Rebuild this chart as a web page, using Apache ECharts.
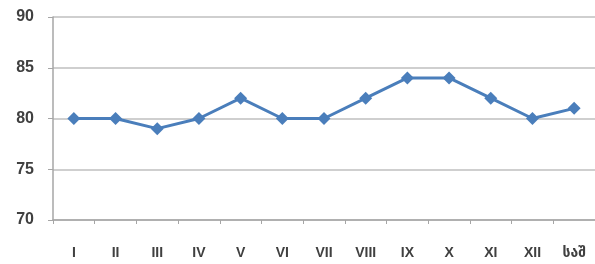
<!DOCTYPE html>
<html><head><meta charset="utf-8">
<script src="https://cdn.jsdelivr.net/npm/echarts@6/dist/echarts.min.js"></script>
<style>html,body{margin:0;padding:0;background:#fff}#c{width:595px;height:264px}</style>
</head><body><div id="c"></div>
<script>
const categories = ['I','II','III','IV','V','VI','VII','VIII','IX','X','XI','XII','საშ'];
const values = [80,80,79,80,82,80,80,82,84,84,82,80,81];
const yTicks = {min:70, max:90, interval:5};

const chart = echarts.init(document.getElementById('c'));
chart.setOption({
  animation:false,
  grid:{left:53, top:17, width:547, height:203},
  xAxis:{
    type:'category', data:categories, boundaryGap:true,
    axisLine:{lineStyle:{color:'#a6a6a6', width:1.5}},
    axisTick:{show:true, length:4, lineStyle:{color:'#a6a6a6'}},
    axisLabel:{color:'#404040', fontSize:14, fontWeight:'bold', fontFamily:'"Liberation Sans Narrow", Arial, "DejaVu Sans", sans-serif', margin:26}
  },
  yAxis:{
    type:'value', min:yTicks.min, max:yTicks.max, interval:yTicks.interval,
    axisLine:{show:true, lineStyle:{color:'#a6a6a6', width:1.5}},
    axisTick:{show:true, length:5, lineStyle:{color:'#a6a6a6'}},
    splitLine:{lineStyle:{color:'#bfbfbf', width:1.5}},
    axisLabel:{color:'#404040', fontSize:16, fontWeight:'bold', fontFamily:'Arial, sans-serif', margin:19, padding:[5,0,0,0]}
  },
  series:[{
    type:'line', data:values,
    symbol:'diamond', symbolSize:13,
    lineStyle:{color:'#4a7ebb', width:3},
    itemStyle:{color:'#4a7ebb'}
  }]
});
</script></body></html>
